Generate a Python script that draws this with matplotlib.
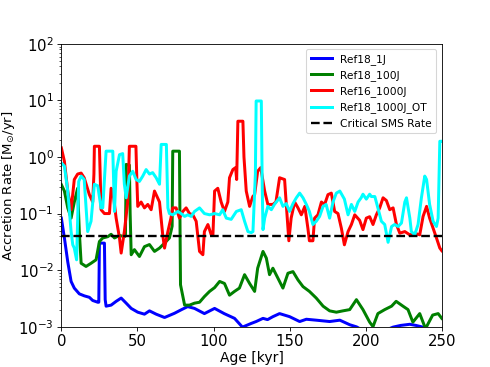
import matplotlib
matplotlib.use("Agg")
import matplotlib.pyplot as plt
import numpy as np

# ---- data (age in kyr, accretion rate in Msun/yr) ----
age_1J = [0, 2, 4.2, 6.4, 8.5, 11.8, 15.1, 18.4, 20.6, 23.9, 24.6, 25, 28.3, 28.8, 29.4, 32.7, 36, 39.3,
          42.6, 45.9, 50.2, 54.6, 57.9, 62.3, 67.8, 74.3, 79, 83, 87.5, 94, 100.7, 107, 113.8, 119,
          124.8, 128, 132.5, 135.5, 139, 143.4, 150, 156.6, 161, 167.5, 176.3, 183, 189.5, 194,
          200, 210, 218, 223, 229, 233, 237.6, 242, 250]
rate_1J = [0.083, 0.037, 0.014, 0.0063, 0.0048, 0.0038, 0.0035, 0.0033, 0.0029, 0.0027, 0.0027, 0.030,
           0.030, 0.0030, 0.0023, 0.0024, 0.0028, 0.0032, 0.0026, 0.0021, 0.0018, 0.00166, 0.0019,
           0.00166, 0.00145, 0.00172, 0.0020, 0.00226, 0.0021, 0.0017, 0.0021, 0.0017, 0.0014, 0.00098,
           0.00114, 0.00123, 0.0014, 0.00133, 0.0015, 0.0017, 0.0015, 0.00123, 0.00135, 0.0013,
           0.00123, 0.0013, 0.00108, 0.00099, 0.0008, 0.0008, 0.00098, 0.00105, 0.0011, 0.00105,
           0.00098, 0.0008, 0.0008]

age_100J = [0, 2, 4.2, 6.4, 8.5, 10.7, 11.8, 13, 16.2, 19.5, 22.8, 25, 27.2, 30.5, 32.7, 34.9, 38.2,
            41.4, 42.1, 42.6, 44.7, 45.2, 45.9, 48, 51.3, 54.6, 57.9, 61.2, 64.5, 67.8, 71, 72, 72.8,
            73.2, 77.6, 78.0, 78.3, 81, 84.2, 87.5, 90.8, 94, 97.4, 100.7, 104, 107.2, 110.5, 113.8,
            117, 120.4, 123.7, 127, 129, 132.5, 134.7, 136.8, 139, 142.3, 145.6, 148.9, 152.2, 155.5,
            158.8, 163, 167.5, 172, 176.3, 180.7, 185, 189.5, 193.9, 198.2, 202.6, 204.8, 208, 212.5,
            217, 220, 224.5, 227.8, 231, 235.5, 238.8, 240, 244, 247.6, 250]
rate_100J = [0.325, 0.25, 0.126, 0.083, 0.16, 0.28, 0.048, 0.0132, 0.0116, 0.0132, 0.0152, 0.032,
             0.037, 0.039, 0.043, 0.037, 0.041, 0.039, 0.04, 0.74, 0.72, 0.1, 0.0187, 0.023, 0.0174,
             0.026, 0.0283, 0.0214, 0.0245, 0.030, 0.037, 0.048, 0.06, 1.27, 1.27, 0.05, 0.0055,
             0.0024, 0.0024, 0.0026, 0.0027, 0.0034, 0.0042, 0.0049, 0.0063, 0.0058, 0.0036, 0.0042,
             0.0048, 0.0083, 0.0058, 0.0042, 0.0108, 0.0214, 0.0163, 0.0083, 0.0108, 0.0072, 0.0048,
             0.0088, 0.0094, 0.0067, 0.0051, 0.0042, 0.0032, 0.0023, 0.0019, 0.0018, 0.0019, 0.0020,
             0.0030, 0.0020, 0.0012, 0.0010, 0.0017, 0.0020, 0.0023, 0.0028, 0.0023, 0.0020, 0.0012,
             0.0017, 0.0010, 0.0010, 0.0016, 0.0017, 0.0014]

age_1000J = [0, 2, 4.2, 6.4, 8.5, 10.7, 13, 15, 18.4, 20.6, 21.4, 21.7, 25, 25.6, 26.1, 28.3, 31.6,
             32.7, 33.8, 36, 38.2, 39.3, 41.4, 43.6, 44.3, 44.7, 49, 49.6, 50.2, 52.4, 54.6, 56.8,
             59, 61.2, 64.5, 66.6, 67.8, 70, 72, 73.2, 75.4, 77.6, 79.8, 82, 84.2, 86.4, 88.6, 90.8,
             93, 94, 96.3, 98.5, 99.6, 100.7, 102.8, 105, 107.2, 109.4, 110.5, 112.7, 114.5, 115.2,
             116, 119.3, 120, 121.5, 123.7, 125.8, 127, 129, 131, 133.6, 135.7, 139, 141, 143.4,
             146.7, 147.8, 149.5, 151, 153.3, 155.5, 157.7, 160, 162, 163, 165.3, 166.4, 168.6,
             170.9, 173, 175.2, 177.4, 179.6, 181.8, 184, 186, 188.4, 190.6, 192.8, 196, 198.2,
             200.4, 202.6, 204.8, 207, 209.2, 211.4, 213.6, 215.8, 218, 220.2, 222.4, 225.7, 229,
             232.2, 235.5, 237.7, 240, 242, 244.3, 246.5, 248.7, 250]
rate_1000J = [1.45, 0.84, 0.25, 0.117, 0.4, 0.5, 0.52, 0.43, 0.216, 0.16, 0.5, 1.55, 1.55, 0.4,
              0.117, 0.1, 0.1, 0.28, 0.25, 0.083, 0.037, 0.02, 0.048, 0.16, 0.6, 1.55, 1.55, 0.4,
              0.134, 0.16, 0.126, 0.145, 0.117, 0.25, 0.16, 0.042, 0.0245, 0.048, 0.083, 0.126,
              0.126, 0.083, 0.109, 0.126, 0.1, 0.095, 0.073, 0.0214, 0.0187, 0.048, 0.064, 0.042,
              0.042, 0.25, 0.28, 0.16, 0.109, 0.16, 0.43, 0.6, 0.65, 0.4, 4.3, 4.3, 1.0, 0.25, 0.134,
              0.2, 0.216, 0.56, 0.65, 0.25, 0.145, 0.145, 0.16, 0.43, 0.4, 0.145, 0.033, 0.083, 0.16,
              0.126, 0.095, 0.134, 0.055, 0.033, 0.033, 0.083, 0.095, 0.16, 0.145, 0.216, 0.23,
              0.109, 0.1, 0.055, 0.028, 0.048, 0.064, 0.095, 0.076, 0.052, 0.083, 0.088, 0.064,
              0.095, 0.126, 0.19, 0.17, 0.117, 0.126, 0.064, 0.045, 0.048, 0.042, 0.045, 0.042,
              0.089, 0.134, 0.083, 0.055, 0.037, 0.0245, 0.022]

age_OT = [0, 2, 4.2, 6.4, 7.5, 8.5, 10, 11.4, 13, 15, 17.3, 19.5, 21.7, 23.9, 26.1, 27.2, 29.4, 33.8,
          34.9, 36, 38.2, 40.3, 41.4, 42.6, 44.7, 46.9, 49.1, 51.3, 53.5, 55.7, 57.9, 60, 62.3, 64.5,
          65.6, 69, 70, 71, 73.2, 76.5, 78.7, 81, 83, 85.3, 87.5, 90.8, 94, 97.4, 100.7, 104, 106,
          108.4, 111.6, 115, 118.2, 120.4, 122.6, 124.8, 125.9, 127.5, 128, 131.4, 132, 132.5,
          133.6, 135.7, 138, 140, 143.4, 145.6, 147.8, 150, 152.2, 154.4, 156.6, 158.8, 161, 163,
          165.3, 167.5, 169.7, 172, 174, 176.3, 178.5, 180.7, 183, 186, 188.4, 190.6, 192.8, 195,
          197, 198.2, 200.4, 202.6, 203.7, 206, 208, 210.3, 212.5, 214.7, 217, 219, 221.3, 223.5,
          225.7, 226.8, 229, 230, 232.2, 234.4, 236.6, 238.8, 240, 242, 244.3, 246.5, 247.6, 248.7,
          250]
rate_OT = [0.785, 0.69, 0.25, 0.048, 0.028, 0.0245, 0.0152, 0.37, 0.46, 0.4, 0.048, 0.073, 0.33,
           0.31, 0.126, 0.126, 1.27, 1.27, 0.109, 0.56, 1.1, 1.15, 0.33, 0.19, 0.46, 0.56, 0.4, 0.37,
           0.46, 0.6, 0.5, 0.53, 0.43, 0.33, 1.67, 1.67, 0.126, 0.1, 0.095, 0.109, 0.1, 0.089, 0.095,
           0.089, 0.109, 0.126, 0.1, 0.095, 0.1, 0.095, 0.117, 0.083, 0.079, 0.109, 0.117, 0.073,
           0.048, 0.046, 0.048, 0.5, 9.8, 9.8, 0.3, 0.052, 0.083, 0.134, 0.117, 0.145, 0.19, 0.134,
           0.15, 0.109, 0.15, 0.19, 0.23, 0.19, 0.145, 0.109, 0.064, 0.073, 0.089, 0.134, 0.145,
           0.083, 0.16, 0.23, 0.25, 0.18, 0.095, 0.145, 0.109, 0.16, 0.19, 0.22, 0.18, 0.22, 0.2,
           0.2, 0.126, 0.073, 0.064, 0.031, 0.059, 0.064, 0.059, 0.068, 0.16, 0.19, 0.083, 0.048,
           0.042, 0.064, 0.19, 0.46, 0.4, 0.145, 0.073, 0.059, 0.083, 1.9, 1.9]

critical_rate = 0.04
labels = ["Ref18_1J", "Ref18_100J", "Ref16_1000J", "Ref18_1000J_OT", "Critical SMS Rate"]
colors = ["blue", "green", "red", "cyan"]

fig, ax = plt.subplots(figsize=(6.4, 4.786), dpi=76.7)
lw = 2.8
ax.plot(age_1J, rate_1J, color=colors[0], lw=lw, label=labels[0])
ax.plot(age_100J, rate_100J, color=colors[1], lw=lw, label=labels[1])
ax.plot(age_1000J, rate_1000J, color=colors[2], lw=lw, label=labels[2])
ax.plot(age_OT, rate_OT, color=colors[3], lw=lw, label=labels[3])
ax.axhline(critical_rate, color="black", ls="--", lw=2.2, label=labels[4])

ax.set_yscale("log")
ax.set_xlim(0, 250)
ax.set_ylim(1e-3, 1e2)
ax.set_xticks([0, 50, 100, 150, 200, 250])
ax.tick_params(labelsize=14)
ax.set_xlabel("Age [kyr]", fontsize=13, labelpad=2)
ax.set_ylabel(r"Accretion Rate [M$_{\odot}$/yr]", fontsize=12.5, labelpad=1)
ax.legend(loc="upper right", fontsize=10)

fig.savefig("out.png", dpi=76.7)
